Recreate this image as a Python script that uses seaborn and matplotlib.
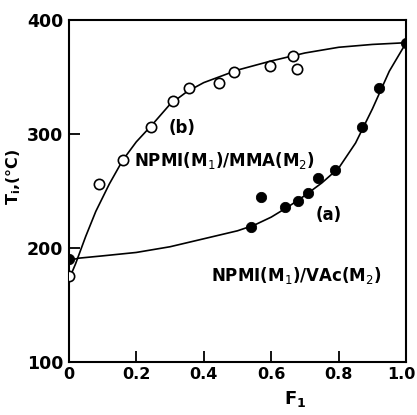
import pandas as pd
import matplotlib
matplotlib.use("Agg")
import matplotlib.pyplot as plt
import matplotlib.transforms as mtransforms
import seaborn as sns

# ---- data ----
# (a) NPMI/VAc, filled circles
f_a = [0.0, 0.54, 0.57, 0.64, 0.68, 0.71, 0.74, 0.79, 0.87, 0.92, 1.0]
t_a = [190, 218, 245, 236, 241, 248, 261, 268, 306, 340, 380]
# (b) NPMI/MMA, open circles
f_b = [0.0, 0.09, 0.16, 0.245, 0.31, 0.355, 0.445, 0.49, 0.595, 0.665, 0.675]
t_b = [175, 256, 277, 306, 329, 340, 345, 354, 360, 368, 357]

# fitted curves
curve_a_f = [0.0, 0.03, 0.1, 0.2, 0.3, 0.4, 0.5, 0.55, 0.6, 0.65, 0.7, 0.75,
             0.8, 0.85, 0.9, 0.95, 1.0]
curve_a_t = [189, 191, 193, 196, 201, 208, 215, 220, 227, 236, 246, 257,
             270, 292, 322, 355, 380]
curve_b_f = [0.0, 0.02, 0.05, 0.08, 0.12, 0.16, 0.2, 0.25, 0.3, 0.35, 0.4,
             0.5, 0.6, 0.7, 0.8, 0.9, 1.0]
curve_b_t = [172, 186, 210, 232, 256, 277, 293, 309, 326, 337, 345,
             356, 364, 371, 376, 378.5, 380]

x_ticks = [0, 0.2, 0.4, 0.6, 0.8, 1.0]
x_tick_labels = ["0", "0.2", "0.4", "0.6", "0.8", "1.0"]
y_ticks = [100, 200, 300, 400]

pts_a = pd.DataFrame({"F1": f_a, "Ti": t_a})
pts_b = pd.DataFrame({"F1": f_b, "Ti": t_b})
fit_a = pd.DataFrame({"F1": curve_a_f, "Ti": curve_a_t})
fit_b = pd.DataFrame({"F1": curve_b_f, "Ti": curve_b_t})

sns.set_style("ticks")
plt.rcParams["font.family"] = ["DejaVu Sans"]
plt.rcParams["text.color"] = "black"
plt.rcParams["axes.labelcolor"] = "black"
plt.rcParams["xtick.color"] = "black"
plt.rcParams["ytick.color"] = "black"
plt.rcParams["axes.edgecolor"] = "black"

fig = plt.figure(figsize=(4.17, 4.15), dpi=100)
ax = fig.add_axes([0.165, 0.128, 0.809, 0.824])

sns.lineplot(data=fit_a, x="F1", y="Ti", color="black", lw=1.2, sort=False, ax=ax)
sns.lineplot(data=fit_b, x="F1", y="Ti", color="black", lw=1.2, sort=False, ax=ax)
sns.scatterplot(data=pts_b, x="F1", y="Ti", marker="o", s=55, facecolor="white",
                edgecolor="black", linewidth=1.2, zorder=3, ax=ax)
sns.scatterplot(data=pts_a, x="F1", y="Ti", marker="o", s=55, color="black",
                edgecolor="black", zorder=4, ax=ax)

ax.set_xlim(0, 1.0)
ax.set_ylim(100, 400)
ax.set_xticks(x_ticks)
ax.set_xticklabels(x_tick_labels)
ax.set_yticks(y_ticks)
ax.tick_params(direction="in", length=8, width=1.3, pad=4)
ax.tick_params(axis="y", labelsize=12.5)
ax.tick_params(axis="x", labelsize=11.5)
for lab in ax.get_xticklabels() + ax.get_yticklabels():
    lab.set_fontweight("bold")
# pull "1.0" in so it is not clipped by the figure edge
last = ax.get_xticklabels()[-1]
last.set_ha("right")
last.set_transform(last.get_transform() +
                   mtransforms.ScaledTranslation(9 / 100, 0, fig.dpi_scale_trans))
for sp in ax.spines.values():
    sp.set_linewidth(1.5)

ax.set_xlabel(r"F$_\mathbf{1}$", fontsize=13, fontweight="bold")
ax.xaxis.set_label_coords(0.67, -0.08)
ax.set_ylabel(r"T$_\mathbf{i}$,(°C)", fontsize=11.5, fontweight="bold")
ax.yaxis.set_label_coords(-0.135, 0.54)

txt = dict(fontsize=12, fontweight="semibold", ha="center", va="center")
ax.text(0.335, 305, "(b)", **txt)
ax.text(0.463, 277, r"NPMI(M$_1$)/MMA(M$_2$)", **txt)
ax.text(0.77, 229, "(a)", **txt)
ax.text(0.675, 176, r"NPMI(M$_1$)/VAc(M$_2$)", **txt)

fig.savefig("out.png", dpi=100)
